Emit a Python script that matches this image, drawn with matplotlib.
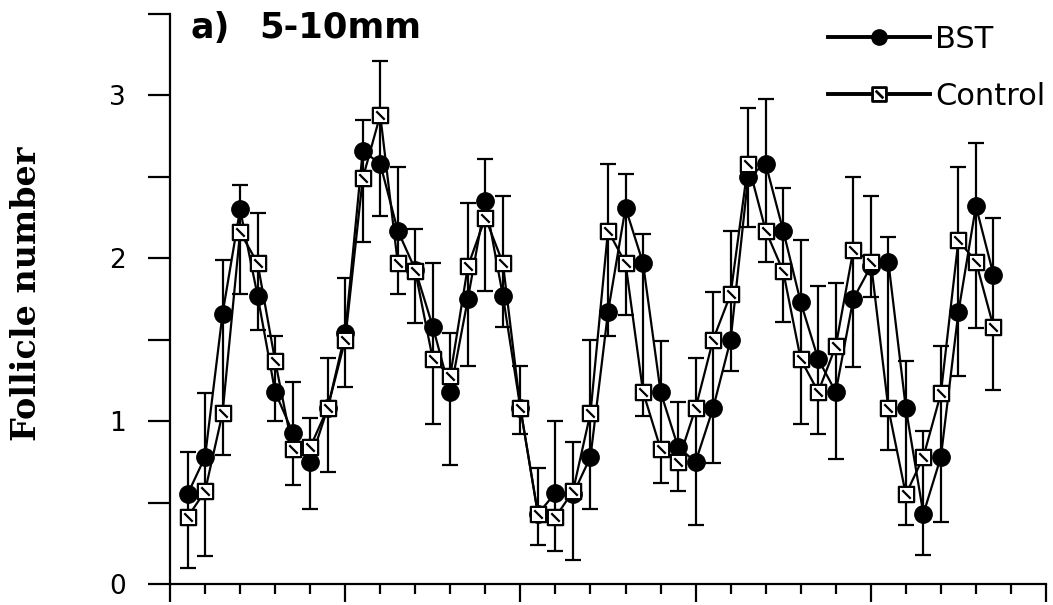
import numpy as np
import matplotlib
matplotlib.use("Agg")
import matplotlib.pyplot as plt
from matplotlib.path import Path
from matplotlib.lines import Line2D

# day of the cycle
days = np.arange(1, 48)

# mean follicle number (5-10mm)
bst = [0.55, 0.78, 1.66, 2.30, 1.77, 1.18, 0.93, 0.75, 1.08, 1.54,
       2.66, 2.58, 2.17, 1.93, 1.58, 1.18, 1.75, 2.35, 1.77, 1.08,
       0.43, 0.56, 0.55, 0.78, 1.67, 2.31, 1.97, 1.18, 0.84, 0.75,
       1.08, 1.50, 2.50, 2.58, 2.17, 1.73, 1.38, 1.18, 1.75, 1.95,
       1.98, 1.08, 0.43, 0.78, 1.67, 2.32, 1.90]
control = [0.41, 0.57, 1.05, 2.16, 1.97, 1.37, 0.83, 0.84, 1.08, 1.50,
           2.49, 2.88, 1.97, 1.92, 1.38, 1.28, 1.95, 2.25, 1.97, 1.08,
           0.43, 0.41, 0.57, 1.05, 2.17, 1.97, 1.18, 0.83, 0.75, 1.08,
           1.50, 1.78, 2.58, 2.17, 1.92, 1.38, 1.18, 1.46, 2.05, 1.98,
           1.08, 0.55, 0.78, 1.17, 2.11, 1.98, 1.58]

# one-sided SEM (drawn up for the higher series, down for the lower)
bst_err = [0.26, 0.39, 0.33, 0.15, 0.21, 0.18, 0.31, 0.29, 0.31, 0.34,
           0.19, 0.32, 0.39, 0.25, 0.39, 0.45, 0.41, 0.26, 0.19, 0.26,
           0.28, 0.44, 0.40, 0.32, 0.15, 0.21, 0.18, 0.31, 0.28, 0.39,
           0.34, 0.19, 0.31, 0.40, 0.26, 0.38, 0.45, 0.41, 0.42, 0.19,
           0.15, 0.29, 0.25, 0.40, 0.39, 0.39, 0.35]
control_err = [0.31, 0.40, 0.26, 0.38, 0.31, 0.15, 0.22, 0.18, 0.39, 0.29,
               0.39, 0.33, 0.19, 0.32, 0.40, 0.26, 0.39, 0.45, 0.41, 0.16,
               0.19, 0.21, 0.30, 0.45, 0.41, 0.32, 0.15, 0.21, 0.18, 0.31,
               0.29, 0.39, 0.34, 0.19, 0.31, 0.40, 0.26, 0.39, 0.45, 0.40,
               0.26, 0.19, 0.16, 0.29, 0.45, 0.41, 0.39]

bst = np.array(bst)
control = np.array(control)
bst_err = np.array(bst_err)
control_err = np.array(control_err)

# square with a diagonal stroke
sq_marker = Path([(-1, -1), (1, -1), (1, 1), (-1, 1), (-1, -1), (-0.55, 0.55), (0.55, -0.55)],
                 [Path.MOVETO, Path.LINETO, Path.LINETO, Path.LINETO, Path.CLOSEPOLY,
                  Path.MOVETO, Path.LINETO])

W, H = 1053, 605
fig = plt.figure(figsize=(W / 100, H / 100), dpi=100)
fig.patch.set_facecolor("white")
ax = fig.add_axes([170 / W, 1 - 584 / H, (1046 - 170) / W, (584 - 14) / H])

lw = 1.6
bst_hi = bst >= control
top = np.where(bst_hi, bst + bst_err, control + control_err)
bottom = np.where(bst_hi, control - control_err, bst - bst_err)
ax.errorbar(days, (top + bottom) / 2, yerr=(top - bottom) / 2, fmt="none",
            ecolor="black", elinewidth=lw, capsize=5.5, capthick=lw, zorder=2)

ax.plot(days, bst, "-", color="black", lw=lw, marker="o", ms=12.5,
        mfc="black", mec="black", zorder=3)
ax.plot(days, control, "-", color="black", lw=lw, marker=sq_marker, ms=11,
        mfc="white", mec="black", mew=lw, zorder=4)

ax.set_xlim(0, 50)
ax.set_ylim(0, 3.5)
for s in ["top", "right"]:
    ax.spines[s].set_visible(False)
for s in ["left", "bottom"]:
    ax.spines[s].set_linewidth(lw)

ax.set_xticks(np.arange(0, 51, 10))
ax.set_xticks(np.arange(0, 51, 2), minor=True)
ax.tick_params(axis="x", which="major", direction="out", length=13, width=lw, labelbottom=False)
ax.tick_params(axis="x", which="minor", direction="out", length=7, width=lw)

ax.set_yticks([0, 1, 2, 3])
ax.set_yticks([0.5, 1.5, 2.5, 3.5], minor=True)
ax.tick_params(axis="y", which="both", direction="out", length=15.8, width=lw)
ax.tick_params(axis="y", which="major", labelsize=19, pad=16)

ax.text((190 - 170) / 876, (584 - 38) / 570, "a)", transform=ax.transAxes, fontsize=25,
        fontweight="bold", family="DejaVu Sans", va="baseline", ha="left")
ax.text((259 - 170) / 876, (584 - 38) / 570, "5-10mm", transform=ax.transAxes, fontsize=25.5,
        fontweight="bold", family="DejaVu Sans", va="baseline", ha="left")

fig.text(27 / W, 1 - 294 / H, "Follicle number", rotation=90, ha="center", va="center",
         fontsize=24, fontweight="bold", family="DejaVu Serif")

handles = [Line2D([], [], color="black", lw=2.8, marker="o", ms=11, mfc="black", mec="black"),
           Line2D([], [], color="black", lw=2.8, marker=sq_marker, ms=10, mfc="white",
                  mec="black", mew=2)]
ax.legend(handles, ["BST", "Control"], loc="upper right",
          bbox_to_anchor=(1045 / W, 1 - 25 / H), bbox_transform=fig.transFigure,
          frameon=False, prop={"family": "DejaVu Sans", "size": 22}, handlelength=3.33,
          handletextpad=0.15, labelspacing=0.92, borderpad=0, borderaxespad=0)

fig.savefig("out.png", dpi=100, facecolor="white")
